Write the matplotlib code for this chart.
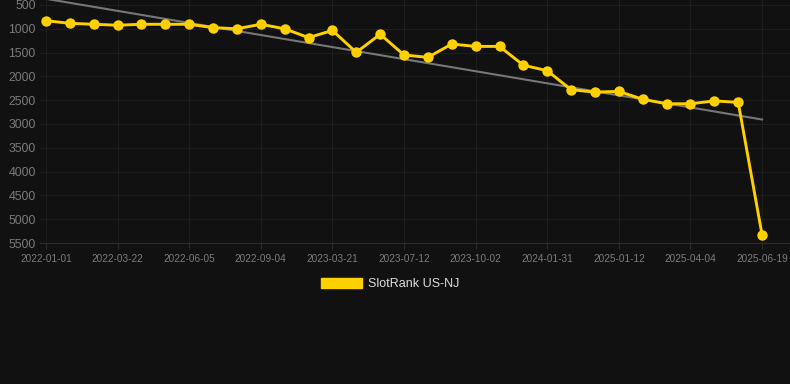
import numpy as np
import matplotlib.pyplot as plt
from matplotlib.patches import Patch

plt.rcParams['font.family'] = ['Liberation Sans', 'DejaVu Sans']

# Rank per snapshot (lower is better, axis is inverted)
ranks = [830, 885, 905, 925, 905, 905, 905, 975, 1000, 905,
         1000, 1185, 1035, 1495, 1115, 1550, 1600, 1320, 1370, 1370,
         1765, 1880, 2280, 2330, 2315, 2480, 2575, 2575, 2515, 2545,
         5330]
tick_labels = ['2022-01-01', '2022-03-22', '2022-06-05', '2022-09-04',
               '2023-03-21', '2023-07-12', '2023-10-02', '2024-01-31',
               '2025-01-12', '2025-04-04', '2025-06-19']
series_name = 'SlotRank US-NJ'

bg = '#111111'
gold = '#FFD000'

x = np.arange(len(ranks))
# linear trend through the ranks
k, b = np.polyfit(x, ranks, 1)
trend = k * x + b

fig = plt.figure(figsize=(7.9, 3.84), dpi=100, facecolor=bg)
ax = fig.add_axes([40 / 790, 141 / 384, 750 / 790, 243 / 384])
ax.set_facecolor(bg)

ax.plot(x, trend, color='#777777', lw=1.5, zorder=2)
ax.plot(x, ranks, color=gold, lw=2.1, marker='o', markersize=7.5,
        markeredgewidth=0, zorder=3)

ax.set_xlim(-0.25, 31.17)
ax.set_ylim(5500, 395)
ax.set_yticks(np.arange(500, 5501, 500))
ax.set_xticks(x[::3])
ax.set_xticklabels(tick_labels)

ax.grid(True, color='#1d1d1d', lw=0.8)
ax.set_axisbelow(True)
for s in ['top', 'right', 'left']:
    ax.spines[s].set_visible(False)
ax.spines['bottom'].set_color('#2c2c2c')
ax.tick_params(axis='y', length=0, pad=3, labelsize=8.8, labelcolor='#7c7c7c')
ax.tick_params(axis='x', length=4, color='#2c2c2c', pad=4, labelsize=7.2,
               labelcolor='#7c7c7c')

fig.legend(handles=[Patch(facecolor=gold, edgecolor=gold)], labels=[series_name],
           loc='center', bbox_to_anchor=(0.494, 0.26), frameon=False,
           fontsize=9, labelcolor='#dddddd', handlelength=3.3,
           handleheight=0.9, handletextpad=0.5)

fig.savefig('out.png', dpi=100, facecolor=bg)
